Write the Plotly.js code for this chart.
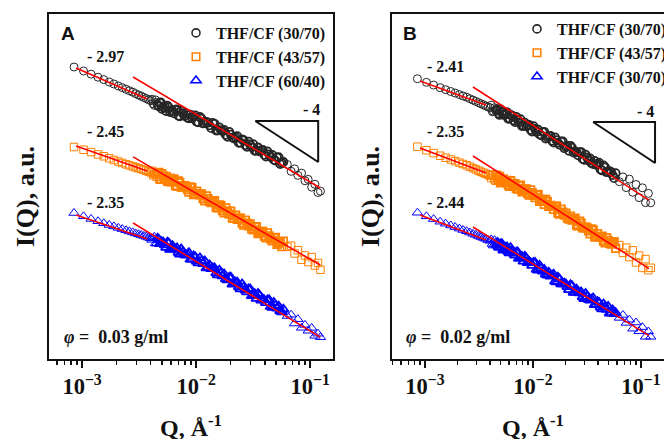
<!DOCTYPE html>
<html><head><meta charset="utf-8">
<script src="https://cdn.plot.ly/plotly-3.0.1.min.js"></script>
<style>html,body{margin:0;padding:0;background:#fff}#chart{width:664px;height:439px}</style>
</head><body><div id="chart"></div>
<script>
// Scattering vector Q (1/Angstrom), shared by all curves
const Q = [0.00085,0.00103,0.0012,0.00138,0.00155,0.00173,0.0019,0.00208,0.00225,0.00243,0.0026,0.00278,0.00295,0.00313,0.0033,0.00348,0.00365,0.00383,0.004,
0.0042,0.0044,0.0046,0.0048,0.005,0.0053,0.0056,0.0059,0.0062,0.0066,0.007,0.0074,0.0079,0.0084,0.0089,0.0095,0.0101,0.0108,0.0115,0.0123,0.0131,0.014,0.015,0.016,0.017,0.0182,0.0195,0.0208,0.0222,0.0237,0.0253,0.027,0.0288,0.0307,0.0327,0.0349,0.0372,0.0396,0.0422,0.045,0.048,0.0512,0.0546,0.0582,
0.063,0.068,0.073,0.078,0.084,0.09,0.096,0.103,0.11,0.117,0.123];
// additional Q points of the densely sampled middle range
const Q2 = [0.0041,0.0043,0.0045,0.0047,0.0049,0.00515,0.00545,0.00575,0.00605,0.0064,0.0068,0.0072,0.00765,0.00815,0.00865,0.0092,0.0098,0.01045,0.01115,0.0119,0.0127,0.01355,0.0145,0.0155,0.0165,0.0176,0.01885,0.02015,0.0215,0.02295,0.0245,0.02615,0.0279,0.02975,0.0317,0.0338,0.03605,0.0384,0.0409,0.0436,0.0465,0.0496,0.0529,0.0564];

// log10 I(Q), arbitrary units (curves offset vertically)
const logI_A1 = [3.232,3.174,3.128,3.084,3.049,3.014,2.986,2.957,2.933,2.909,2.888,2.867,2.846,2.826,2.809,2.791,2.774,2.758,2.743,
2.699,2.755,2.683,2.712,2.625,2.662,2.671,2.580,2.597,2.612,2.525,2.599,2.525,2.496,2.541,2.510,2.438,2.509,2.414,2.436,2.386,2.422,2.310,2.357,2.303,2.248,2.293,2.209,2.213,2.132,2.181,2.100,2.149,2.068,2.016,2.065,2.028,1.959,2.009,1.926,1.887,1.922,1.825,1.855,
1.819,1.720,1.755,1.662,1.694,1.583,1.603,1.491,1.532,1.413,1.432];
const logI_A1_2 = [2.764,2.676,2.719,2.661,2.719,2.643,2.594,2.647,2.603,2.561,2.619,2.518,2.562,2.561,2.489,2.489,2.532,2.430,2.483,2.418,2.425,2.346,2.409,2.312,2.315,2.319,2.220,2.251,2.196,2.230,2.135,2.170,2.074,2.109,2.114,2.019,2.010,2.030,1.933,1.967,1.957,1.875,1.924,1.840];
const logI_A2 = [2.072,2.033,1.999,1.965,1.938,1.909,1.884,1.861,1.841,1.822,1.806,1.791,1.777,1.764,1.752,1.741,1.729,1.716,1.704,
1.662,1.677,1.694,1.610,1.686,1.612,1.580,1.620,1.590,1.512,1.580,1.490,1.512,1.459,1.496,1.384,1.433,1.378,1.323,1.365,1.281,1.281,1.193,1.235,1.149,1.190,1.099,1.041,1.083,1.041,0.970,1.013,0.928,0.886,0.916,0.817,0.849,0.781,0.828,0.742,0.759,0.661,0.699,0.707,
0.626,0.642,0.529,0.577,0.439,0.501,0.406,0.477,0.355,0.393,0.294];
const logI_A2_2 = [1.727,1.684,1.642,1.703,1.604,1.649,1.646,1.571,1.569,1.609,1.502,1.557,1.493,1.500,1.420,1.483,1.387,1.391,1.394,1.293,1.323,1.267,1.295,1.192,1.221,1.119,1.144,1.142,1.040,1.025,1.041,0.941,0.970,0.957,0.872,0.917,0.833,0.851,0.754,0.785,0.714,0.761,0.680,0.630];
const logI_A3 = [1.116,1.068,1.030,0.996,0.968,0.943,0.922,0.900,0.883,0.865,0.849,0.835,0.820,0.807,0.796,0.783,0.772,0.759,0.748,
0.749,0.677,0.752,0.668,0.700,0.655,0.693,0.587,0.642,0.591,0.541,0.593,0.512,0.520,0.443,0.493,0.414,0.465,0.380,0.319,0.364,0.319,0.245,0.288,0.203,0.158,0.184,0.083,0.112,0.041,0.086,-0.001,0.014,-0.086,-0.055,-0.052,-0.151,-0.146,-0.143,-0.242,-0.181,-0.265,-0.304,-0.278,
-0.377,-0.358,-0.486,-0.423,-0.548,-0.506,-0.591,-0.549,-0.664,-0.633,-0.684];
const logI_A3_2 = [0.727,0.771,0.671,0.732,0.677,0.692,0.616,0.683,0.593,0.602,0.609,0.516,0.552,0.501,0.540,0.446,0.483,0.389,0.422,0.422,0.320,0.305,0.318,0.216,0.246,0.231,0.142,0.184,0.097,0.112,0.012,0.042,-0.030,0.015,-0.070,-0.126,-0.080,-0.134,-0.188,-0.142,-0.255,-0.223,-0.234,-0.320];
const logI_B1 = [3.062,3.010,2.970,2.932,2.903,2.877,2.854,2.832,2.812,2.793,2.772,2.752,2.733,2.716,2.699,2.684,2.668,2.654,2.641,
2.584,2.641,2.599,2.558,2.617,2.542,2.555,2.481,2.539,2.459,2.509,2.430,2.377,2.426,2.390,2.322,2.374,2.291,2.255,2.290,2.194,2.229,2.162,2.212,2.132,2.152,2.055,2.088,2.090,1.993,1.996,1.997,1.900,1.962,1.877,1.838,1.871,1.830,1.746,1.806,1.707,1.723,1.665,1.693,
1.570,1.639,1.484,1.607,1.416,1.529,1.339,1.481,1.267,1.400,1.264];
const logI_B1_2 = [2.678,2.591,2.605,2.622,2.537,2.580,2.534,2.576,2.488,2.528,2.433,2.470,2.476,2.380,2.372,2.392,2.297,2.333,2.324,2.243,2.293,2.212,2.232,2.136,2.172,2.106,2.154,2.072,2.017,2.063,2.009,1.953,1.999,1.888,1.920,1.908,1.825,1.814,1.846,1.733,1.778,1.708,1.709,1.621];
const logI_B2 = [2.077,2.025,1.984,1.946,1.917,1.891,1.868,1.846,1.826,1.807,1.787,1.767,1.748,1.730,1.713,1.699,1.683,1.670,1.658,
1.674,1.603,1.664,1.594,1.554,1.610,1.581,1.523,1.583,1.506,1.472,1.514,1.422,1.461,1.400,1.452,1.370,1.383,1.284,1.313,1.313,1.213,1.212,1.213,1.114,1.172,1.084,1.042,1.071,1.028,0.942,0.999,0.899,0.914,0.857,0.886,0.772,0.816,0.764,0.710,0.759,0.678,0.684,0.604,
0.651,0.538,0.614,0.477,0.575,0.399,0.499,0.320,0.448,0.288,0.322];
const logI_B2_2 = [1.622,1.667,1.583,1.629,1.646,1.560,1.559,1.588,1.502,1.544,1.540,1.464,1.519,1.441,1.467,1.375,1.411,1.340,1.384,1.299,1.241,1.285,1.227,1.169,1.214,1.100,1.128,1.114,1.028,1.013,1.043,0.927,0.970,0.899,0.900,0.813,0.872,0.772,0.775,0.780,0.684,0.719,0.667,0.702];
const logI_B3 = [1.120,1.068,1.028,0.990,0.961,0.935,0.912,0.890,0.870,0.851,0.833,0.814,0.799,0.783,0.768,0.754,0.741,0.725,0.712,
0.667,0.723,0.651,0.623,0.667,0.575,0.616,0.555,0.612,0.530,0.548,0.454,0.486,0.488,0.393,0.394,0.399,0.296,0.357,0.270,0.226,0.257,0.212,0.126,0.187,0.086,0.099,0.045,0.075,-0.036,0.010,-0.046,-0.100,-0.052,-0.138,-0.133,-0.216,-0.170,-0.251,-0.203,-0.284,-0.338,-0.288,-0.329,
-0.404,-0.362,-0.477,-0.430,-0.561,-0.471,-0.597,-0.538,-0.678,-0.601,-0.678];
const logI_B3_2 = [0.733,0.644,0.687,0.688,0.616,0.672,0.596,0.622,0.533,0.571,0.503,0.551,0.470,0.414,0.462,0.408,0.353,0.398,0.283,0.313,0.299,0.212,0.198,0.227,0.113,0.158,0.085,0.086,0.002,0.063,-0.035,-0.033,-0.030,-0.127,-0.095,-0.150,-0.117,-0.214,-0.181,-0.278,-0.243,-0.238,-0.335,-0.345];

// power-law fit segments (Q endpoints and log10 I endpoints)
const fitA_lowQ = [0.000886, 0.00372];
const fitA_highQ = [0.0028, 0.1225];
const fitA1_low = [3.217, 2.768], fitA1_high = [3.087, 1.478];
const fitA2_low = [2.087, 1.725], fitA2_high = [1.928, 0.362];
const fitA3_low = [1.087, 0.739], fitA3_high = [0.971, -0.684];
const fitB_lowQ = [0.000899, 0.00367];
const fitB_highQ = [0.00278, 0.1186];
const fitB1_low = [3.029, 2.681], fitB1_high = [2.942, 1.304];
const fitB2_low = [2.058, 1.696], fitB2_high = [1.942, 0.310];
const fitB3_low = [1.087, 0.725], fitB3_high = [0.913, -0.661];

// slope -4 guide triangles
const triA_Q = [0.0330, 0.1175, 0.1175, 0.0330];
const triA_logI = [2.449, 2.449, 1.855, 2.449];
const triB_Q = [0.0360, 0.1349, 0.1349, 0.0360];
const triB_logI = [2.435, 2.435, 1.841, 2.435];

const namesA = ['THF/CF (30/70)', 'THF/CF (43/57)', 'THF/CF (60/40)'];
const namesB = ['THF/CF (30/70)', 'THF/CF (43/57)', 'THF/CF (30/70)'];
const slopeLabelsA = ['- 2.97', '- 2.45', '- 2.35'];
const slopeLabelsB = ['- 2.41', '- 2.35', '- 2.44'];
const concA = '0.03 g/ml', concB = '0.02 g/ml';

const SERIF = 'Liberation Serif, Times New Roman, serif';
const SANS = 'Liberation Sans, Arial, sans-serif';
const INK = '#111';
const colors = ['#262626', '#ff8000', '#0000ff'];
const symbols = ['circle-open', 'square-open', 'triangle-up-open'];
const sizes = [8, 7.5, 9];

const dataA = [[logI_A1, logI_A1_2], [logI_A2, logI_A2_2], [logI_A3, logI_A3_2]];
const dataB = [[logI_B1, logI_B1_2], [logI_B2, logI_B2_2], [logI_B3, logI_B3_2]];
const fitsA = [[fitA1_low, fitA1_high], [fitA2_low, fitA2_high], [fitA3_low, fitA3_high]];
const fitsB = [[fitB1_low, fitB1_high], [fitB2_low, fitB2_high], [fitB3_low, fitB3_high]];
const allQ = Q.concat(Q2);
// heavier outline where the points crowd together
const outline = allQ.map(q => (q > 0.0045 && q < 0.06) ? 1.8 : 1);

const traces = [];
function addPanel(data, names, fits, lowQ, highQ, triQ, triI, xa, ya, leg) {
  data.forEach((pair, i) => {
    traces.push({x: allQ, y: pair[0].concat(pair[1]), xaxis: xa, yaxis: ya, type: 'scatter', mode: 'markers', name: names[i],
      legend: leg, marker: {symbol: symbols[i], size: sizes[i], color: colors[i], line: {width: outline, color: colors[i]}}});
  });
  fits.forEach(f => {
    traces.push({x: lowQ, y: f[0], xaxis: xa, yaxis: ya, mode: 'lines', showlegend: false, line: {color: '#ff0000', width: 1.5}});
    traces.push({x: highQ, y: f[1], xaxis: xa, yaxis: ya, mode: 'lines', showlegend: false, line: {color: '#ff0000', width: 1.5}});
  });
  traces.push({x: triQ, y: triI, xaxis: xa, yaxis: ya, mode: 'lines', showlegend: false, line: {color: INK, width: 2}});
}
addPanel(dataA, namesA, fitsA, fitA_lowQ, fitA_highQ, triA_Q, triA_logI, 'x', 'y', 'legend');
addPanel(dataB, namesB, fitsB, fitB_lowQ, fitB_highQ, triB_Q, triB_logI, 'x2', 'y2', 'legend2');

const W = 664, H = 439;
const yDom = [80 / H, 425 / H];
function xAxis(dom, range, anchor) {
  return {type: 'log', domain: dom, range: range, anchor: anchor, dtick: 1, exponentformat: 'power',
    ticks: 'outside', ticklen: 7, tickwidth: 2, tickcolor: INK, showline: true, linewidth: 2, linecolor: INK,
    mirror: true, showgrid: false, zeroline: false,
    tickfont: {family: SERIF, size: 18, weight: 'bold', color: INK},
    minor: {ticks: 'outside', ticklen: 4, tickwidth: 1.5, tickcolor: INK, dtick: 'D1', showgrid: false}};
}
function yAxis(anchor, mirror) {
  return {domain: yDom, range: [-1, 4], anchor: anchor, showline: true, linewidth: 2, linecolor: INK,
    mirror: mirror, showticklabels: false, ticks: '', showgrid: false, zeroline: false};
}

const ann = [];
const tfont = (s) => ({family: SERIF, size: s, weight: 'bold', color: INK});
const P = (o) => Object.assign({xref: 'paper', yref: 'paper', xanchor: 'center', yanchor: 'middle', showarrow: false}, o);
ann.push(P({x: 68 / W, y: 1 - 33 / H, text: 'A', font: {family: SANS, size: 19, weight: 'bold', color: INK}}));
ann.push(P({x: 410 / W, y: 1 - 33 / H, text: 'B', font: {family: SANS, size: 19, weight: 'bold', color: INK}}));
const labYA = [3.377, 2.290, 1.275], labYB = [3.232, 2.290, 1.275];
slopeLabelsA.forEach((t, i) => ann.push({xref: 'x', yref: 'y', x: -2.798, y: labYA[i], text: t, showarrow: false, font: tfont(16)}));
slopeLabelsB.forEach((t, i) => ann.push({xref: 'x2', yref: 'y2', x: -2.806, y: labYB[i], text: t, showarrow: false, font: tfont(16)}));
ann.push({xref: 'x', yref: 'y', x: -0.991, y: 2.609, text: '- 4', showarrow: false, font: tfont(16)});
ann.push({xref: 'x2', yref: 'y2', x: -0.954, y: 2.580, text: '- 4', showarrow: false, font: tfont(16)});
ann.push(P({x: 62 / W, y: 1 - 337 / H, xanchor: 'left', text: '<i>φ</i> =&nbsp; ' + concA, font: tfont(18)}));
ann.push(P({x: 404 / W, y: 1 - 337 / H, xanchor: 'left', text: '<i>φ</i> =&nbsp; ' + concB, font: tfont(18)}));
ann.push(P({x: 191 / W, y: 1 - 426 / H, text: 'Q, Å<sup>-1</sup>', font: tfont(24)}));
ann.push(P({x: 533 / W, y: 1 - 426 / H, text: 'Q, Å<sup>-1</sup>', font: tfont(24)}));
ann.push(P({x: 25 / W, y: 1 - 197 / H, text: 'I(Q), a.u.', textangle: -90, font: tfont(26)}));
ann.push(P({x: 370 / W, y: 1 - 197 / H, text: 'I(Q), a.u.', textangle: -90, font: tfont(26)}));

const legendStyle = (x, y) => ({x: x, y: y, xanchor: 'left', yanchor: 'top', bgcolor: 'rgba(0,0,0,0)', borderwidth: 0,
  font: {family: SERIF, size: 16, weight: 'bold', color: INK}, itemsizing: 'trace', tracegroupgap: 0});

const layout = {
  width: W, height: H, paper_bgcolor: '#fff', plot_bgcolor: '#fff',
  margin: {l: 0, r: 0, t: 0, b: 0, autoexpand: false},
  xaxis: xAxis([49 / W, 333 / W], [-3.29, -0.80], 'y'),
  yaxis: yAxis('x', true),
  xaxis2: xAxis([392 / W, 1], [-3.306, -0.787], 'y2'),
  yaxis2: yAxis('x2', false),
  legend: legendStyle(176 / W, 1 - 16 / H),
  legend2: legendStyle(517 / W, 1 - 12 / H),
  annotations: ann,
  showlegend: true
};
Plotly.newPlot('chart', traces, layout, {staticPlot: true, displayModeBar: false});
</script></body></html>
